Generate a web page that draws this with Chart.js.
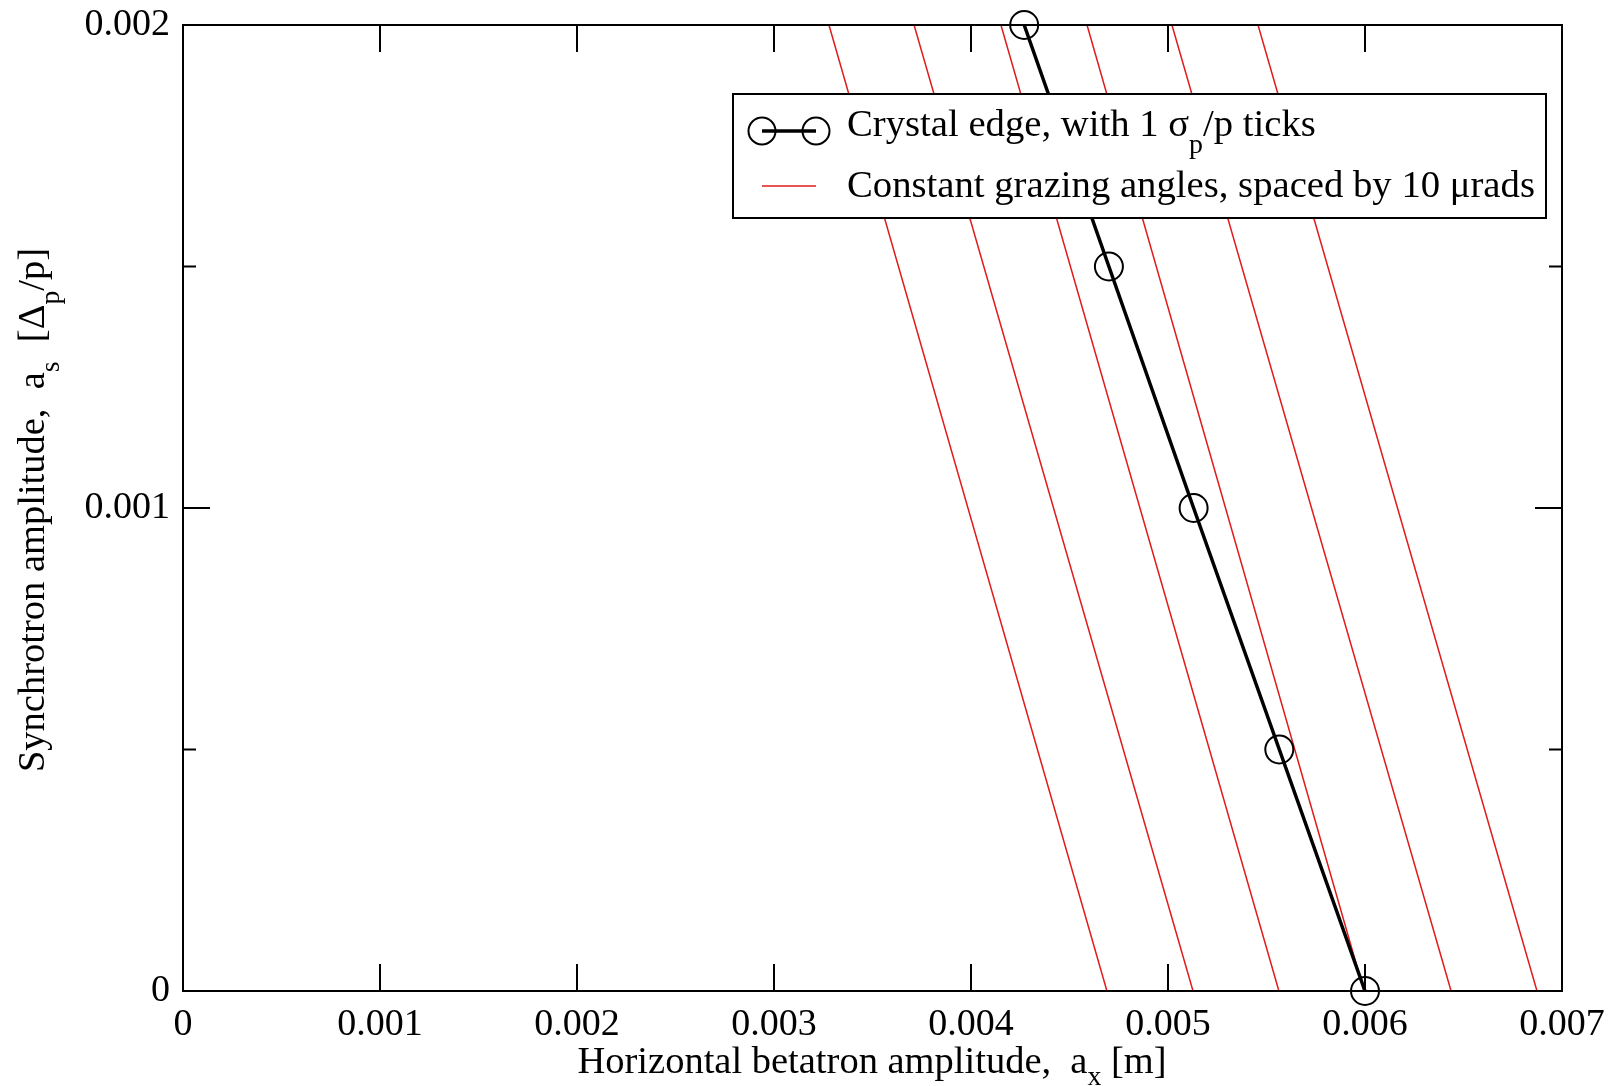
<!DOCTYPE html>
<html>
<head>
<meta charset="utf-8">
<script src="https://cdn.jsdelivr.net/npm/chart.js@4.4.0/dist/chart.umd.min.js"></script>
<style>
  html, body { margin: 0; padding: 0; background: #fff; }
  #wrap { width: 1615px; height: 1086px; position: relative; }
</style>
</head>
<body>
<div id="wrap"><canvas id="grazing"></canvas></div>
<script>
// crystal edge, one marker per sigma_p/p
const edgeX = [0.006, 0.005565, 0.00513, 0.0047, 0.00427];
const edgeY = [0, 0.0005, 0.001, 0.0015, 0.002];

// lines of constant grazing angle (10 urad apart): x at a_s = 0 and at a_s = 0.002
const grazingBottomX = [0.00469, 0.005127, 0.005563, 0.005995, 0.006437, 0.006873];
const grazingTopX = [0.003279, 0.003711, 0.004152, 0.004589, 0.00502, 0.005457];
const grazingY = [0, 0.002];

const xTicks = [0, 0.001, 0.002, 0.003, 0.004, 0.005, 0.006, 0.007];
const xTickLabels = ['0', '0.001', '0.002', '0.003', '0.004', '0.005', '0.006', '0.007'];
const yTicks = [0, 0.0005, 0.001, 0.0015, 0.002];
const yTickLabels = ['0', '', '0.001', '', '0.002'];

const FONT = '"Liberation Serif", "Times New Roman", serif';
const RED = '#e01b1b';

// draw text with subscripts, parts = [{t, sub}]
function richWidth(ctx, parts, size) {
  let w = 0;
  parts.forEach(p => {
    ctx.font = (p.sub ? size * 0.72 : size) + 'px ' + FONT;
    w += ctx.measureText(p.t).width;
  });
  return w;
}
function drawRich(ctx, parts, x, y, size, drop) {
  let cx = x;
  parts.forEach(p => {
    const fs = p.sub ? size * 0.72 : size;
    ctx.font = fs + 'px ' + FONT;
    ctx.fillText(p.t, cx, y + (p.sub ? size * drop : 0));
    cx += ctx.measureText(p.t).width;
  });
}

const xTitle = [{t: 'Horizontal betatron amplitude,  a'}, {t: 'x', sub: true}, {t: ' [m]'}];
const yTitle = [{t: 'Synchrotron amplitude,  a'}, {t: 's', sub: true}, {t: '  [\u0394'}, {t: 'p', sub: true}, {t: '/p]'}];
const legendRows = [
  [{t: 'Crystal edge, with 1 \u03c3'}, {t: 'p', sub: true}, {t: '/p ticks'}],
  [{t: 'Constant grazing angles, spaced by 10 \u03bcrads'}]
];

// frame, inward ticks on all four sides, axis titles and the boxed legend
const decorations = {
  id: 'decorations',
  afterDatasetsDraw(chart) {
    const ctx = chart.ctx;
    const a = chart.chartArea;
    const xs = chart.scales.x, ys = chart.scales.y;
    ctx.save();
    ctx.strokeStyle = '#000';
    ctx.lineWidth = 2;
    ctx.strokeRect(a.left, a.top, a.right - a.left, a.bottom - a.top);

    ctx.beginPath();
    xTicks.forEach(v => {
      const px = xs.getPixelForValue(v);
      ctx.moveTo(px, a.bottom); ctx.lineTo(px, a.bottom - 27);
      ctx.moveTo(px, a.top); ctx.lineTo(px, a.top + 27);
    });
    yTicks.forEach((v, i) => {
      const py = ys.getPixelForValue(v);
      const len = yTickLabels[i] ? 27 : 13;
      ctx.moveTo(a.left, py); ctx.lineTo(a.left + len, py);
      ctx.moveTo(a.right, py); ctx.lineTo(a.right - len, py);
    });
    ctx.stroke();

    // axis titles
    ctx.fillStyle = '#000';
    ctx.textBaseline = 'alphabetic';
    ctx.textAlign = 'left';
    const ts = 38.5;
    const xw = richWidth(ctx, xTitle, ts);
    drawRich(ctx, xTitle, 872 - xw / 2, 1073, ts, 0.3);

    const yw = richWidth(ctx, yTitle, ts);
    ctx.save();
    ctx.translate(44, 510);
    ctx.rotate(-Math.PI / 2);
    drawRich(ctx, yTitle, -yw / 2, 0, ts, 0.4);
    ctx.restore();

    // legend box
    const lx = 733, ly = 94, lw = 813, lh = 124;
    ctx.fillStyle = '#fff';
    ctx.fillRect(lx, ly, lw, lh);
    ctx.lineWidth = 2;
    ctx.strokeRect(lx, ly, lw, lh);

    ctx.strokeStyle = '#000';
    ctx.lineWidth = 3.5;
    ctx.beginPath();
    ctx.moveTo(762, 131); ctx.lineTo(816, 131);
    ctx.stroke();
    ctx.lineWidth = 2;
    [762, 816].forEach(cx => {
      ctx.beginPath();
      ctx.arc(cx, 131, 13.5, 0, Math.PI * 2);
      ctx.stroke();
    });
    ctx.strokeStyle = RED;
    ctx.lineWidth = 1.5;
    ctx.beginPath();
    ctx.moveTo(762, 186); ctx.lineTo(816, 186);
    ctx.stroke();

    ctx.fillStyle = '#000';
    drawRich(ctx, legendRows[0], 847, 136, 38.7, 0.44);
    drawRich(ctx, legendRows[1], 847, 197, 38.7, 0.44);
    ctx.restore();
  }
};

const datasets = [{
  label: 'Crystal edge',
  data: edgeX.map((x, i) => ({x: x, y: edgeY[i]})),
  borderColor: '#000',
  borderWidth: 3.5,
  pointRadius: 14,
  pointBorderWidth: 2,
  pointBorderColor: '#000',
  pointBackgroundColor: 'rgba(0,0,0,0)',
  clip: false
}];
grazingBottomX.forEach((x0, i) => {
  datasets.push({
    label: 'Constant grazing angle',
    data: [{x: x0, y: grazingY[0]}, {x: grazingTopX[i], y: grazingY[1]}],
    borderColor: RED,
    borderWidth: 1.5,
    pointRadius: 0
  });
});

new Chart(document.getElementById('grazing'), {
  type: 'line',
  data: {datasets: datasets},
  options: {
    responsive: true,
    maintainAspectRatio: false,
    devicePixelRatio: 1,
    animation: false,
    layout: {padding: {top: 25, right: 53, left: 0, bottom: 0}},
    plugins: {legend: {display: false}, tooltip: {enabled: false}},
    elements: {line: {tension: 0}},
    scales: {
      x: {
        type: 'linear',
        min: 0, max: 0.007,
        afterBuildTicks: s => { s.ticks = xTicks.map(v => ({value: v})); },
        afterFit: s => { s.height = 95; },
        grid: {display: false},
        border: {display: false},
        ticks: {
          color: '#000',
          padding: 3,
          font: {family: FONT, size: 38},
          maxRotation: 0,
          autoSkip: false,
          callback: (v, i) => xTickLabels[i]
        }
      },
      y: {
        type: 'linear',
        min: 0, max: 0.002,
        afterBuildTicks: s => { s.ticks = yTicks.map(v => ({value: v})); },
        afterFit: s => { s.width = 183; },
        grid: {display: false},
        border: {display: false},
        ticks: {
          color: '#000',
          padding: 5,
          font: {family: FONT, size: 38, lineHeight: 1},
          autoSkip: false,
          callback: (v, i) => yTickLabels[i]
        }
      }
    }
  },
  plugins: [decorations]
});
</script>
</body>
</html>
